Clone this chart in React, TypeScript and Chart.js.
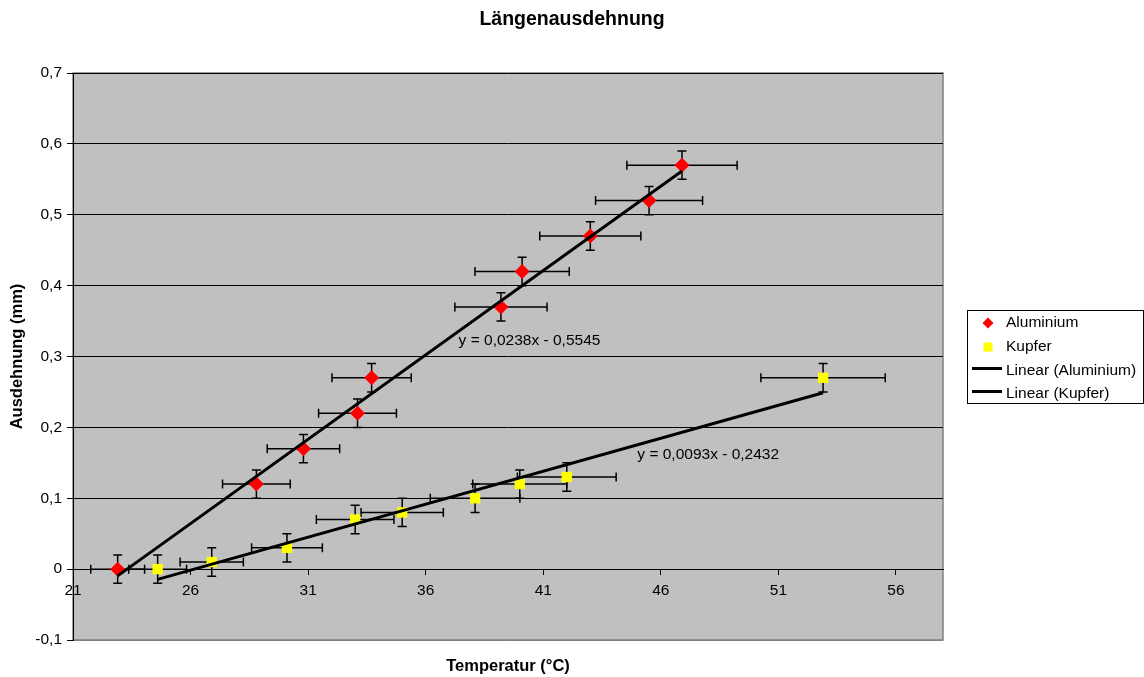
import React, { useEffect, useRef } from 'react';
import { Chart, registerables } from 'chart.js';

Chart.register(...registerables);

// ---- data ----
const aluTemp = [22.9, 28.8, 30.8, 33.1, 33.7, 39.2, 40.1, 43.0, 45.5, 46.9];
const aluExp = [0, 0.12, 0.17, 0.22, 0.27, 0.37, 0.42, 0.47, 0.52, 0.57];
const cuTemp = [24.6, 26.9, 30.1, 33.0, 35.0, 38.1, 40.0, 42.0, 52.9];
const cuExp = [0, 0.01, 0.03, 0.07, 0.08, 0.1, 0.12, 0.13, 0.27];
const xTicks = [21, 26, 31, 36, 41, 46, 51, 56];
const xMin = 21;
const xMax = 58;
const yMin = -0.1;
const yMax = 0.7;
const yStep = 0.1;
const aluSlope = 0.0238;
const aluIntercept = -0.5545;
const cuSlope = 0.0093;
const cuIntercept = -0.2432;
const xErrRel = 0.05; // 5 % horizontal error bars
const yErrAbs = 0.02; // fixed vertical error bars

const FONT = "'Liberation Sans', Arial, sans-serif";

const fmt = (v: number, d: number) => {
  if (Math.abs(v) < 1e-9) return '0';
  return v.toFixed(d).replace('.', ',');
};
const sign = (v: number) => (v < 0 ? ' - ' : ' + ');
const eqText = (m: number, b: number) => 'y = ' + fmt(m, 4) + 'x' + sign(b) + fmt(Math.abs(b), 4);

const pts = (xs: number[], ys: number[]) => xs.map((x, i) => ({ x, y: ys[i] }));
const fitLine = (xs: number[], m: number, b: number) => {
  const lo = Math.min(...xs);
  const hi = Math.max(...xs);
  return [
    { x: lo, y: m * lo + b },
    { x: hi, y: m * hi + b },
  ];
};

const bgPlugin = {
  id: 'plotBg',
  beforeDraw(chart: any) {
    const { ctx, chartArea: a } = chart;
    ctx.save();
    ctx.fillStyle = '#C0C0C0';
    ctx.fillRect(a.left, a.top, a.right - a.left, a.bottom - a.top);
    ctx.strokeStyle = '#808080';
    ctx.lineWidth = 1.5;
    ctx.strokeRect(a.left, a.top, a.right - a.left, a.bottom - a.top);
    ctx.restore();
  },
};

const errorBarPlugin = {
  id: 'errorBars',
  beforeDatasetsDraw(chart: any) {
    const { ctx } = chart;
    const x = chart.scales.x;
    const y = chart.scales.y;
    const cap = 4.5;
    ctx.save();
    ctx.strokeStyle = '#000';
    ctx.lineWidth = 1.5;
    chart.data.datasets.forEach((ds: any) => {
      if (!ds.errorBars) return;
      ds.data.forEach((p: any) => {
        const px = x.getPixelForValue(p.x);
        const py = y.getPixelForValue(p.y);
        const xl = x.getPixelForValue(p.x * (1 - xErrRel));
        const xr = x.getPixelForValue(p.x * (1 + xErrRel));
        const yt = y.getPixelForValue(p.y + yErrAbs);
        const yb = y.getPixelForValue(p.y - yErrAbs);
        ctx.beginPath();
        ctx.moveTo(xl, py);
        ctx.lineTo(xr, py);
        ctx.moveTo(xl, py - cap);
        ctx.lineTo(xl, py + cap);
        ctx.moveTo(xr, py - cap);
        ctx.lineTo(xr, py + cap);
        ctx.moveTo(px, yt);
        ctx.lineTo(px, yb);
        ctx.moveTo(px - cap, yt);
        ctx.lineTo(px + cap, yt);
        ctx.moveTo(px - cap, yb);
        ctx.lineTo(px + cap, yb);
        ctx.stroke();
      });
    });
    ctx.restore();
  },
};

const equationPlugin = {
  id: 'equations',
  afterDatasetsDraw(chart: any) {
    const { ctx } = chart;
    const x = chart.scales.x;
    const y = chart.scales.y;
    ctx.save();
    ctx.font = '15.5px ' + FONT;
    ctx.fillStyle = '#000';
    ctx.textBaseline = 'middle';
    ctx.textAlign = 'left';
    ctx.fillText(eqText(aluSlope, aluIntercept), x.getPixelForValue(37.4), y.getPixelForValue(0.322));
    ctx.fillText(eqText(cuSlope, cuIntercept), x.getPixelForValue(45.0), y.getPixelForValue(0.162));
    ctx.restore();
  },
};

const legendPlugin = {
  id: 'boxLegend',
  afterDraw(chart: any) {
    const { ctx } = chart;
    const ds = chart.data.datasets;
    ctx.save();
    ctx.strokeStyle = '#000';
    ctx.lineWidth = 1;
    ctx.strokeRect(967.5, 310.5, 176, 93);
    ctx.font = '15.5px ' + FONT;
    ctx.fillStyle = '#000';
    ctx.textBaseline = 'middle';
    ctx.textAlign = 'left';
    const rows = [323, 347, 370.5, 393.5];
    const mx = 988;
    // Aluminium diamond
    ctx.fillStyle = ds[0].backgroundColor;
    ctx.beginPath();
    ctx.moveTo(mx, rows[0] - 5.5);
    ctx.lineTo(mx + 5.5, rows[0]);
    ctx.lineTo(mx, rows[0] + 5.5);
    ctx.lineTo(mx - 5.5, rows[0]);
    ctx.closePath();
    ctx.fill();
    // Kupfer square
    ctx.fillStyle = ds[1].backgroundColor;
    ctx.fillRect(mx - 4.5, rows[1] - 4.5, 9, 9);
    // lines
    ctx.strokeStyle = '#000';
    ctx.lineWidth = 3;
    [2, 3].forEach((r) => {
      ctx.beginPath();
      ctx.moveTo(972, rows[r] - 2);
      ctx.lineTo(1002, rows[r] - 2);
      ctx.stroke();
    });
    ctx.fillStyle = '#000';
    ds.forEach((d: any, i: number) => {
      ctx.fillText(d.label, 1006, rows[i]);
    });
    ctx.restore();
  },
};

export default function App() {
  const ref = useRef<HTMLCanvasElement | null>(null);

  useEffect(() => {
    if (!ref.current) return;
    const chart = new Chart(ref.current, {
      type: 'scatter',
      data: {
        datasets: [
          {
            label: 'Aluminium',
            data: pts(aluTemp, aluExp),
            backgroundColor: '#FF0000',
            borderColor: '#FF0000',
            pointStyle: 'rectRot',
            pointRadius: 7.5,
            pointBorderWidth: 0,
            order: 1,
            errorBars: true,
          } as any,
          {
            label: 'Kupfer',
            data: pts(cuTemp, cuExp),
            backgroundColor: '#FFFF00',
            borderColor: '#FFFF00',
            pointStyle: 'rect',
            pointRadius: 7.3,
            pointBorderWidth: 0,
            order: 1,
            errorBars: true,
          } as any,
          {
            label: 'Linear (Aluminium)',
            data: fitLine(aluTemp, aluSlope, aluIntercept),
            showLine: true,
            borderColor: '#000',
            borderWidth: 3,
            pointRadius: 0,
            order: 0,
          },
          {
            label: 'Linear (Kupfer)',
            data: fitLine(cuTemp, cuSlope, cuIntercept),
            showLine: true,
            borderColor: '#000',
            borderWidth: 3,
            pointRadius: 0,
            order: 0,
          },
        ],
      },
      options: {
        animation: false,
        responsive: false,
        layout: { padding: 0 },
        plugins: {
          legend: { display: false },
          tooltip: { enabled: false },
          title: {
            display: true,
            text: 'Längenausdehnung',
            color: '#000',
            font: { family: FONT, size: 19.5, weight: 'bold' },
            padding: { top: 8.3, bottom: 41.3 },
          },
        },
        scales: {
          x: {
            type: 'linear',
            position: { y: 0 } as any,
            min: xMin,
            max: xMax,
            afterBuildTicks: (scale: any) => {
              scale.ticks = xTicks.map((v) => ({ value: v }));
            },
            ticks: {
              color: '#000',
              font: { family: FONT, size: 15.5 },
              padding: 7,
              maxRotation: 0,
              autoSkip: false,
              callback: (v: any) => String(v),
            },
            grid: {
              drawOnChartArea: false,
              drawTicks: true,
              tickLength: 5,
              color: '#000',
              lineWidth: 1,
            },
            border: { display: true, color: '#000', width: 1 },
          },
          xb: {
            type: 'linear',
            position: 'bottom',
            axis: 'x',
            min: xMin,
            max: xMax,
            ticks: { display: false },
            grid: { display: false, drawTicks: false },
            border: { display: false },
            title: {
              display: true,
              text: 'Temperatur (°C)',
              color: '#000',
              font: { family: FONT, size: 16.5, weight: 'bold' },
              padding: { top: 0, bottom: 1 },
            },
            afterFit: (scale: any) => {
              scale.height = 37;
            },
          } as any,
          yr: {
            type: 'linear',
            position: 'right',
            axis: 'y',
            min: yMin,
            max: yMax,
            ticks: { display: false },
            grid: { display: false, drawTicks: false },
            border: { display: false },
            afterFit: (scale: any) => {
              scale.width = 201;
            },
          } as any,
          y: {
            type: 'linear',
            position: 'left',
            min: yMin,
            max: yMax,
            ticks: {
              stepSize: yStep,
              color: '#000',
              font: { family: FONT, size: 15.5 },
              padding: 5,
              callback: (v: any) => fmt(Number(v), 1),
            },
            grid: {
              color: (c: any) =>
                c.tick && Math.abs(c.tick.value - yMin) < 1e-9 ? '#808080' : '#000',
              tickColor: '#000',
              tickLength: 6,
              lineWidth: 1,
            },
            border: { display: true, color: '#000', width: 1 },
            title: {
              display: true,
              text: 'Ausdehnung (mm)',
              color: '#000',
              font: { family: FONT, size: 16.5, weight: 'bold' },
              padding: { top: 8, bottom: 0 },
            },
            afterFit: (scale: any) => {
              scale.width = 73;
            },
          },
        },
      },
      plugins: [bgPlugin, errorBarPlugin, equationPlugin, legendPlugin],
    } as any);
    return () => chart.destroy();
  }, []);

  return (
    <div style={{ position: 'fixed', left: 0, top: 0, width: 1144, height: 677, background: '#fff' }}>
      <canvas ref={ref} width={1144} height={677} style={{ display: 'block' }} />
    </div>
  );
}
